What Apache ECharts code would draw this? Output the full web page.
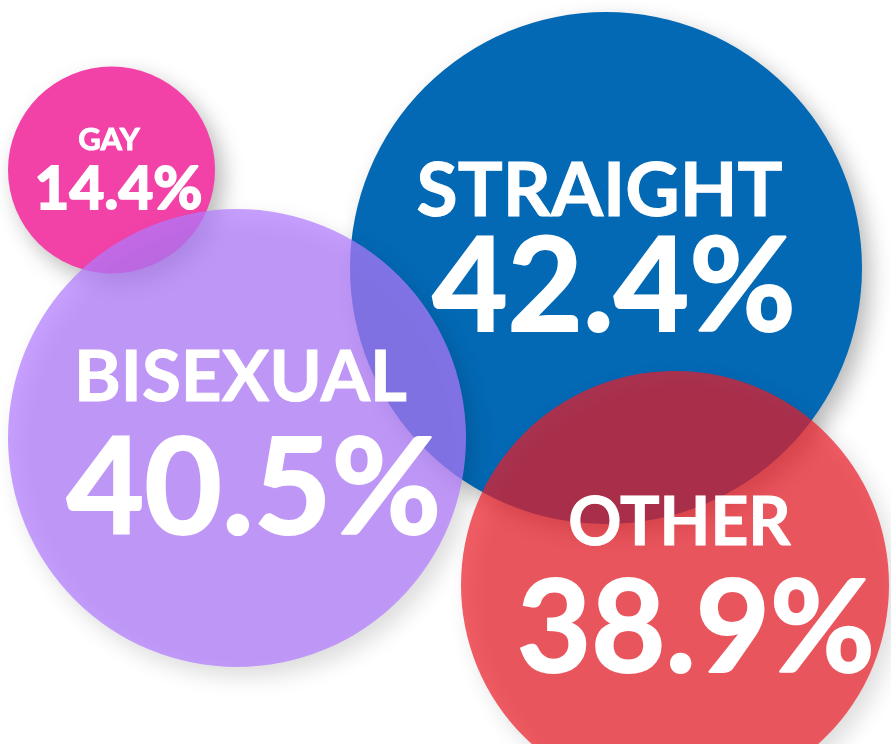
<!DOCTYPE html>
<html>
<head>
<meta charset="utf-8">
<script src="https://cdn.jsdelivr.net/npm/echarts@6/dist/echarts.min.js"></script>
<style>
html,body{margin:0;padding:0;background:#fff;}
#chart{width:891px;height:744px;}
</style>
</head>
<body>
<div id="chart"></div>
<script>
// Data
const categories = ['GAY', 'STRAIGHT', 'BISEXUAL', 'OTHER'];
const percents = [14.4, 42.4, 40.5, 38.9];
const bubbleX = [111.5, 606, 237, 675];
const bubbleY = [170, 268, 438, 585];
const bubbleR = [103.5, 256, 229, 214];

const colors = ['#f242a8', '#0369b5', 'rgba(178,122,255,0.72)', 'rgba(236,28,39,0.71)'];
const shadowColors = ['rgba(0,0,0,0.28)', 'rgba(0,0,0,0.28)', 'rgba(0,0,0,0.19)', 'rgba(0,0,0,0.19)'];
const nameSize = [31, 75, 71, 66];
const valSize = [60, 130, 134, 128];
const nameLine = [40, 64, 91, 85];
const namePadRight = [19, 29, 27, 33];
const offsets = [[7, 0], [8, -11], [17, 7], [21, 3]];

const chart = echarts.init(document.getElementById('chart'));
const data = categories.map((c, i) => ({
  name: c,
  value: [bubbleX[i], bubbleY[i], percents[i]],
  symbolSize: bubbleR[i] * 2,
  itemStyle: {
    color: colors[i],
    opacity: 1,
    shadowBlur: 22,
    shadowOffsetX: 8,
    shadowOffsetY: 10,
    shadowColor: shadowColors[i]
  },
  label: {
    offset: offsets[i],
    rich: {
      n: { fontSize: nameSize[i], lineHeight: nameLine[i], padding: [0, namePadRight[i], 0, 0],
           fontFamily: 'Lato', fontWeight: 'bold', color: '#fff', textBorderColor: '#fff', textBorderWidth: 1 },
      v: { fontSize: valSize[i], lineHeight: valSize[i], fontFamily: 'Lato', fontWeight: 'bold',
           color: '#fff', textBorderColor: '#fff', textBorderWidth: 2 }
    }
  }
}));

chart.setOption({
  animation: false,
  grid: { left: 0, right: 0, top: 0, bottom: 0 },
  xAxis: { type: 'value', min: 0, max: 891, show: false },
  yAxis: { type: 'value', min: 0, max: 744, inverse: true, show: false },
  series: [{
    type: 'scatter',
    data: data,
    itemStyle: { opacity: 1 },
    label: {
      show: true,
      position: 'inside',
      align: 'center',
      opacity: 1,
      formatter: p => '{n|' + p.name + '}\n{v|' + p.value[2].toFixed(1) + '%}'
    },
    emphasis: { disabled: true }
  }]
});
</script>
</body>
</html>
